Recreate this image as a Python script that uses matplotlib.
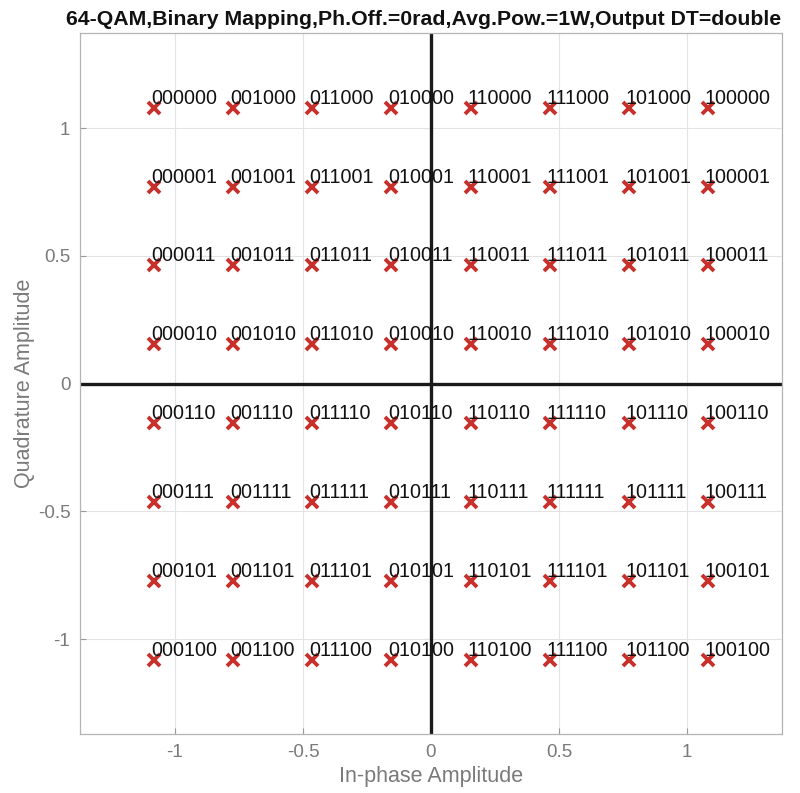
import matplotlib
matplotlib.use("Agg")
import matplotlib.pyplot as plt

plt.rcParams['font.family'] = ['Liberation Sans', 'DejaVu Sans']

# Constellation amplitude levels (64-QAM, avg power 1 W)
levels = [-1.0801, -0.7715, -0.4629, -0.1543, 0.1543, 0.4629, 0.7715, 1.0801]
# Bit labels: first 3 bits by in-phase column (left->right), last 3 by quadrature row (top->bottom)
col_bits = ["000", "001", "011", "010", "110", "111", "101", "100"]
row_bits = ["000", "001", "011", "010", "110", "111", "101", "100"]
ticks = [-1, -0.5, 0, 0.5, 1]
tick_labels = ["-1", "-0.5", "0", "0.5", "1"]
title = "64-QAM,Binary Mapping,Ph.Off.=0rad,Avg.Pow.=1W,Output DT=double"

fig = plt.figure(figsize=(8, 7.93), dpi=100)
ax = fig.add_axes([0.1, 0.0744, 0.8775, 0.8836])

lim = 1.371
ax.set_xlim(-lim, lim)
ax.set_ylim(-lim, lim)

ax.grid(True, color='#e3e3e3', linewidth=0.8, zorder=0)
ax.set_axisbelow(True)

ax.axhline(0, color='#1a1a1a', linewidth=2.4, zorder=2)
ax.axvline(0, color='#1a1a1a', linewidth=2.4, zorder=2)

xs, ys, labs = [], [], []
for ci, cb in enumerate(col_bits):
    for ri, rb in enumerate(row_bits):
        x = levels[ci]
        y = levels[::-1][ri]
        xs.append(x)
        ys.append(y)
        labs.append(cb + rb)

ax.plot(xs, ys, linestyle='none', marker='x', color='#c8302c',
        markersize=8, markeredgewidth=2.8, zorder=3)
for x, y, s in zip(xs, ys, labs):
    ax.text(x - 0.012, y, s, ha='left', va='bottom', fontsize=14.2,
            color='#111111', zorder=4)

ax.set_xticks(ticks)
ax.set_xticklabels(tick_labels)
ax.set_yticks(ticks)
ax.set_yticklabels(tick_labels)
ax.tick_params(direction='in', length=4, width=0.8, colors='#999999',
               labelcolor='#7a7a7a', labelsize=13.5, pad=7)
for sp in ax.spines.values():
    sp.set_color('#b3b3b3')
    sp.set_linewidth(0.9)

ax.set_xlabel("In-phase Amplitude", fontsize=15.5, color='#7a7a7a', labelpad=4)
ax.set_ylabel("Quadrature Amplitude", fontsize=15.5, color='#7a7a7a', labelpad=2)
ax.set_title(title, fontsize=15.3, fontweight='bold', color='#111111', pad=6, x=0.49)

fig.savefig("out.png", dpi=100)
